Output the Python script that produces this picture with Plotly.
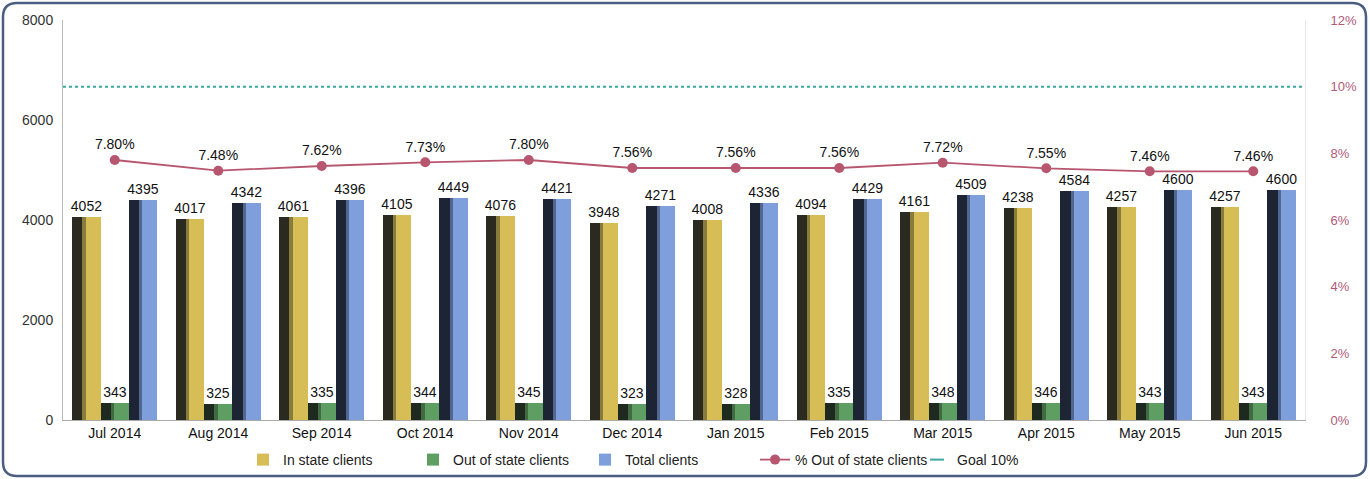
import plotly.graph_objects as go

months = ["Jul 2014", "Aug 2014", "Sep 2014", "Oct 2014", "Nov 2014", "Dec 2014",
          "Jan 2015", "Feb 2015", "Mar 2015", "Apr 2015", "May 2015", "Jun 2015"]
in_state = [4052, 4017, 4061, 4105, 4076, 3948, 4008, 4094, 4161, 4238, 4257, 4257]
out_state = [343, 325, 335, 344, 345, 323, 328, 335, 348, 346, 343, 343]
total = [4395, 4342, 4396, 4449, 4421, 4271, 4336, 4429, 4509, 4584, 4600, 4600]
pct_out = [7.80, 7.48, 7.62, 7.73, 7.80, 7.56, 7.56, 7.56, 7.72, 7.55, 7.46, 7.46]
goal = 10
left_ticks = [0, 2000, 4000, 6000, 8000]
right_ticks = [0, 2, 4, 6, 8, 10, 12]

FONT = "Liberation Sans, Arial, sans-serif"
L, R, T, B = 63, 1305, 20, 420
W, H = 1370, 479


def px(x):
    return (x - L) / (R - L)


def py(y):
    return (B - y) / (B - T)


BW = 0.273
series = [
    ("In state clients", in_state, "#d6bd55", "#2b2a20", -0.41, "legend"),
    ("Out of state clients", out_state, "#5e9e62", "#1e2a20", -0.41 + BW, "legend2"),
    ("Total clients", total, "#7f9fdc", "#1d2433", -0.41 + 2 * BW, "legend3"),
]

fig = go.Figure()
for name, vals, col, dark, off, lg in series:
    fig.add_trace(go.Bar(
        x=months, y=vals, name=name, offset=off, width=BW, legend=lg,
        marker=dict(color=col, line=dict(width=0)),
        text=[str(v) for v in vals], textposition="outside", cliponaxis=False,
        constraintext="none",
        textfont=dict(family=FONT, size=14, color="#111111"),
        hoverinfo="skip"))
    fig.add_trace(go.Bar(
        x=months, y=vals, showlegend=False, offset=off, width=BW * 0.36,
        marker=dict(color=dark, line=dict(width=0)), hoverinfo="skip"))
    fig.add_trace(go.Bar(
        x=months, y=vals, showlegend=False, offset=off + BW * 0.36, width=BW * 0.12,
        marker=dict(color=dark, opacity=0.45, line=dict(width=0)), hoverinfo="skip"))

fig.add_trace(go.Scatter(
    x=months, y=pct_out, yaxis="y2", name="% Out of state clients", legend="legend4",
    mode="lines+markers+text",
    line=dict(color="#b8566f", width=1.8),
    marker=dict(color="#b8566f", size=10),
    text=[f"{v:.2f}%" for v in pct_out], textposition="top center",
    textfont=dict(family=FONT, size=14, color="#111111"), cliponaxis=False))

fig.add_trace(go.Scatter(
    x=[months[0]], y=[None], yaxis="y2", name="Goal 10%", mode="markers", legend="legend5",
    marker=dict(symbol="line-ew-open", size=10, color="#3aa8a0",
                line=dict(color="#3aa8a0", width=2))))

fig.add_shape(type="line", xref="paper", x0=0, x1=1, yref="y2", y0=goal, y1=goal,
              line=dict(color="#3aa8a0", width=2, dash="dot"))

# rounded outer border
x0, x1, y0, y1, r = 3, 1366, 3, 476, 14
path = (f"M {px(x0 + r)},{py(y0)} L {px(x1 - r)},{py(y0)} Q {px(x1)},{py(y0)} {px(x1)},{py(y0 + r)} "
        f"L {px(x1)},{py(y1 - r)} Q {px(x1)},{py(y1)} {px(x1 - r)},{py(y1)} "
        f"L {px(x0 + r)},{py(y1)} Q {px(x0)},{py(y1)} {px(x0)},{py(y1 - r)} "
        f"L {px(x0)},{py(y0 + r)} Q {px(x0)},{py(y0)} {px(x0 + r)},{py(y0)} Z")
fig.add_shape(type="path", xref="paper", yref="paper", path=path,
              line=dict(color="#4b5d80", width=2.5), layer="below")


def legend_at(text_start_px):
    return dict(orientation="h", x=px(text_start_px - 40), xanchor="left", y=py(460),
                yanchor="middle", bgcolor="rgba(0,0,0,0)",
                font=dict(family=FONT, size=14, color="#222222"), itemwidth=30)


fig.update_layout(
    width=W, height=H,
    margin=dict(l=L, r=W - R, t=T, b=H - B, autoexpand=False),
    paper_bgcolor="white", plot_bgcolor="white",
    barmode="overlay", bargap=0,
    font=dict(family=FONT, size=14, color="#222222"),
    xaxis=dict(range=[-0.5, len(months) - 0.5], showgrid=False, showline=True,
               linecolor="#aaaaaa", ticks="", automargin=False,
               tickfont=dict(size=14, color="#111111")),
    yaxis=dict(range=[0, 8000], tickmode="array", tickvals=left_ticks,
               ticktext=[str(v) for v in left_ticks], showgrid=False, automargin=False,
               showline=True, linecolor="#bbbbbb", zeroline=False, ticks="",
               ticklabelstandoff=6, tickfont=dict(size=14, color="#333333")),
    yaxis2=dict(range=[0, 12], overlaying="y", side="right", tickmode="array",
                tickvals=right_ticks, ticktext=[f"{v}%" for v in right_ticks],
                showgrid=False, showline=True, linecolor="#e6e6e6", automargin=False,
                zeroline=False, ticks="", ticklabelstandoff=22,
                tickfont=dict(size=13, color="#b05a78")),
    legend=legend_at(283),
    legend2=legend_at(453),
    legend3=legend_at(625),
    legend4=legend_at(795),
    legend5=legend_at(957),
    showlegend=True,
)

fig.write_html("out.html", config={"displayModeBar": False},
               post_script="document.body.style.margin='0';document.body.style.overflow='hidden';")
